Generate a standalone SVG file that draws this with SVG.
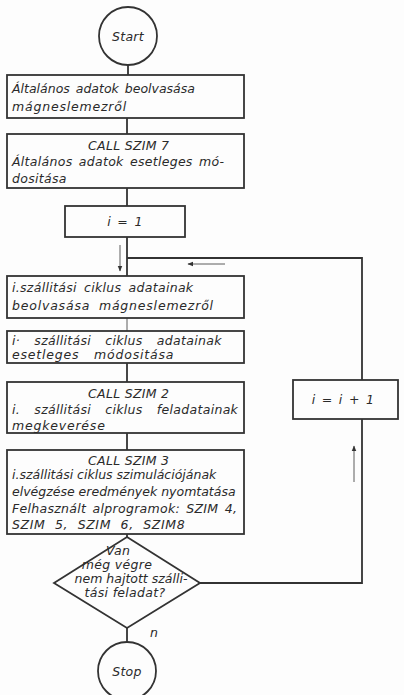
<svg xmlns="http://www.w3.org/2000/svg" width="404" height="695" viewBox="0 0 404 695">
<defs>
<style>
.b{fill:none;stroke:#333;stroke-width:1.8}
.c{fill:none;stroke:#333;stroke-width:1.8}
.t{font-family:"DejaVu Sans",sans-serif;font-style:italic;font-size:12.5px;fill:#2a2a2a;letter-spacing:0.3px}
.m{text-anchor:middle}
.thin{stroke-width:0.8}
</style>
<marker id="ah" viewBox="0 0 10 10" refX="9" refY="5" markerWidth="6" markerHeight="7" orient="auto" markerUnits="userSpaceOnUse">
<path d="M0,1 L10,5 L0,9 Z" fill="#333"/>
</marker>
</defs>
<rect width="404" height="695" fill="#fdfdfd"/>
<g id="connectors">
<line class="c" x1="128" y1="65" x2="128" y2="75"/>
<line class="c" x1="127" y1="118" x2="127" y2="134"/>
<line class="c" x1="127" y1="188" x2="127" y2="206"/>
<line class="c" x1="127" y1="237" x2="127" y2="276"/>
<line class="c thin" x1="127" y1="318" x2="127" y2="331"/>
<line class="c" x1="127" y1="363" x2="127" y2="382"/>
<line class="c" x1="127" y1="433" x2="127" y2="450"/>
<line class="c" x1="127" y1="534" x2="127" y2="537"/>
<line class="c" x1="127" y1="628" x2="127" y2="642"/>
<polyline class="c" points="200,583 362,583 362,419"/>
<polyline class="c" points="362,380 362,258 127,258"/>
<line class="c thin" x1="120" y1="245" x2="120" y2="271" marker-end="url(#ah)"/>
<line class="c thin" x1="225" y1="264" x2="188" y2="264" marker-end="url(#ah)"/>
<line class="c thin" x1="354" y1="482" x2="354" y2="446" marker-end="url(#ah)"/>
</g>
<g id="start">
<circle class="b" cx="128" cy="36" r="29"/>
<text class="t m" x="128" y="41">Start</text>
</g>
<g id="box1">
<rect class="b" x="7" y="75" width="237" height="43"/>
<text class="t" x="12" y="93" style="letter-spacing:0;word-spacing:2px">Általános adatok beolvasása</text>
<text class="t" x="12" y="111" style="letter-spacing:0.8px">mágneslemezről</text>
</g>
<g id="box2">
<rect class="b" x="7" y="134" width="237" height="54"/>
<text class="t" x="88" y="150">CALL SZIM 7</text>
<text class="t" x="12" y="166" style="word-spacing:2px">Általános adatok esetleges mó-</text>
<text class="t" x="12" y="183">dositása</text>
</g>
<g id="init">
<rect class="b" x="65" y="206" width="120" height="31"/>
<text class="t m" x="125" y="226" style="word-spacing:2px">i = 1</text>
</g>
<g id="box3">
<rect class="b" x="7" y="276" width="237" height="42"/>
<text class="t" x="12" y="292" style="word-spacing:3px">i.szállitási ciklus adatainak</text>
<text class="t" x="12" y="310" style="letter-spacing:0.8px;word-spacing:4px">beolvasása mágneslemezről</text>
</g>
<g id="box4">
<rect class="b" x="7" y="331" width="237" height="32"/>
<text class="t" x="12" y="345" style="word-spacing:10px">i· szállitási ciklus adatainak</text>
<text class="t" x="12" y="359" style="letter-spacing:0.8px;word-spacing:10px">esetleges módositása</text>
</g>
<g id="box5">
<rect class="b" x="7" y="382" width="237" height="51"/>
<text class="t" x="88" y="398">CALL SZIM 2</text>
<text class="t" x="12" y="414" style="word-spacing:10px">i. szállitási ciklus feladatainak</text>
<text class="t" x="12" y="430" style="letter-spacing:0.8px">megkeverése</text>
</g>
<g id="box6">
<rect class="b" x="7" y="450" width="237" height="84"/>
<text class="t" x="88" y="465">CALL SZIM 3</text>
<text class="t" x="12" y="479" style="letter-spacing:0">i.szállitási ciklus szimulációjának</text>
<text class="t" x="12" y="496" style="letter-spacing:0">elvégzése eredmények nyomtatása</text>
<text class="t" x="12" y="513" style="word-spacing:2px">Felhasznált alprogramok: SZIM 4,</text>
<text class="t" x="12" y="529" style="letter-spacing:0.6px;word-spacing:5px">SZIM 5, SZIM 6, SZIM8</text>
</g>
<g id="decision">
<polygon class="b" points="127,537 200,583 127,628 54,583"/>
<text class="t m" x="118" y="555">Van</text>
<text class="t m" x="117" y="569">még végre</text>
<text class="t m" x="131" y="583" style="letter-spacing:0">nem hajtott szálli-</text>
<text class="t m" x="125" y="597">tási feladat?</text>
<text class="t" x="150" y="637">n</text>
</g>
<g id="incr">
<rect class="b" x="293" y="380" width="105" height="39"/>
<text class="t m" x="343" y="404" style="word-spacing:2px">i = i + 1</text>
</g>
<g id="stop">
<circle class="b" cx="127" cy="671" r="29"/>
<text class="t m" x="127" y="676">Stop</text>
</g>
</svg>
